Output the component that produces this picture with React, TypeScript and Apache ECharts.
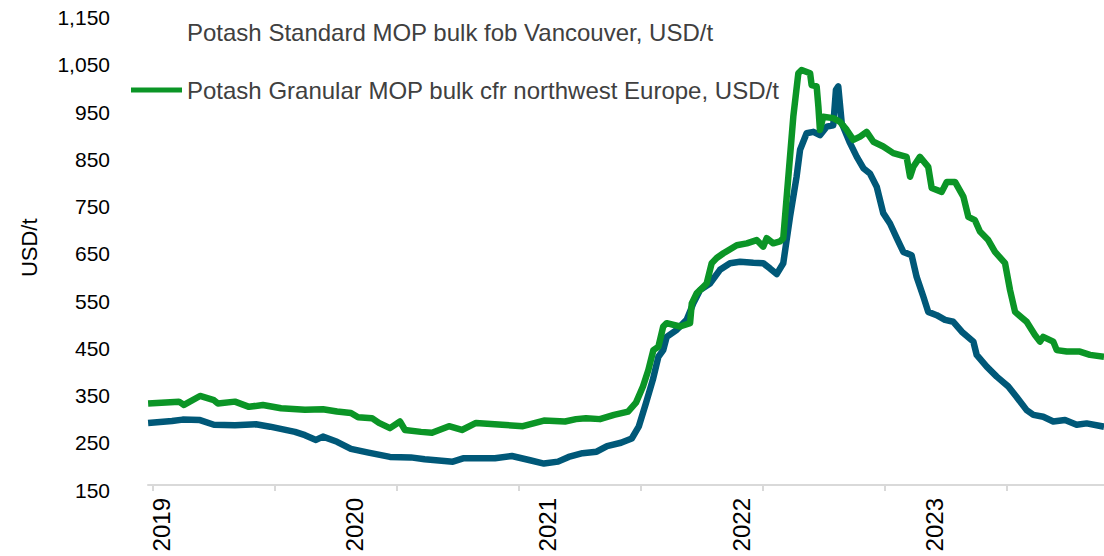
import React, { useEffect, useRef } from "react";
import * as echarts from "echarts";

// Series names
const seriesNames = [
  "Potash Standard MOP bulk fob Vancouver, USD/t",
  "Potash Granular MOP bulk cfr northwest Europe, USD/t",
];

// Vancouver (fractional year, USD/t)
const vancouverDates = [
  2018.928, 2019.052, 2019.107, 2019.197, 2019.269, 2019.378, 2019.487, 2019.56, 2019.689, 2019.741,
  2019.798, 2019.834, 2019.907, 2019.979, 2020.07, 2020.181, 2020.289, 2020.361, 2020.507, 2020.56,
  2020.725, 2020.813, 2020.907, 2020.979, 2021.052, 2021.107, 2021.179, 2021.252, 2021.306, 2021.378,
  2021.434, 2021.47, 2021.507, 2021.543, 2021.572, 2021.597, 2021.615, 2021.667, 2021.718, 2021.753,
  2021.788, 2021.839, 2021.891, 2021.943, 2021.995, 2022.064, 2022.115, 2022.15, 2022.185, 2022.219,
  2022.254, 2022.288, 2022.306, 2022.34, 2022.375, 2022.409, 2022.444, 2022.478, 2022.492, 2022.504,
  2022.522, 2022.565, 2022.6, 2022.634, 2022.668, 2022.703, 2022.737, 2022.772, 2022.807, 2022.841,
  2022.884, 2022.91, 2022.945, 2022.97, 2023.014, 2023.057, 2023.1, 2023.144, 2023.204, 2023.221,
  2023.273, 2023.325, 2023.385, 2023.428, 2023.48, 2023.515, 2023.566, 2023.618, 2023.679, 2023.739,
  2023.791, 2023.881,
];
const vancouverPrices = [
  292, 296, 299, 298, 288, 287, 289, 284, 273, 266,
  256, 263, 252, 237, 229, 220, 219, 215, 210, 217,
  217, 222, 213, 206, 210, 220, 228, 231, 243, 250,
  259, 284, 333, 383, 432, 446, 474, 489, 510, 545,
  573, 587, 616, 630, 633, 631, 630, 619, 607, 630,
  728, 813, 870, 905, 908, 901, 919, 922, 997, 1004,
  926, 884, 855, 831, 820, 792, 736, 714, 683, 654,
  647, 601, 559, 527, 520, 510, 506, 485, 464, 436,
  411, 390, 369, 347, 319, 309, 305, 295, 298, 288,
  291, 284,
];

// Northwest Europe (fractional year, USD/t)
const europeDates = [
  2018.928, 2019.088, 2019.114, 2019.197, 2019.269, 2019.29, 2019.378, 2019.451, 2019.523, 2019.617,
  2019.741, 2019.834, 2019.907, 2019.979, 2020.016, 2020.088, 2020.124, 2020.181, 2020.233, 2020.259,
  2020.342, 2020.399, 2020.487, 2020.554, 2020.627, 2020.762, 2020.87, 2020.979, 2021.088, 2021.145,
  2021.197, 2021.269, 2021.342, 2021.415, 2021.456, 2021.492, 2021.52, 2021.546, 2021.572, 2021.597,
  2021.615, 2021.684, 2021.736, 2021.745, 2021.77, 2021.805, 2021.822, 2021.848, 2021.874, 2021.909,
  2021.978, 2022.03, 2022.081, 2022.115, 2022.133, 2022.167, 2022.202, 2022.219, 2022.271, 2022.297,
  2022.314, 2022.358, 2022.366, 2022.392, 2022.401, 2022.409, 2022.426, 2022.478, 2022.513, 2022.548,
  2022.582, 2022.617, 2022.651, 2022.686, 2022.737, 2022.789, 2022.858, 2022.876, 2022.893, 2022.927,
  2022.97, 2022.988, 2023.04, 2023.066, 2023.109, 2023.152, 2023.178, 2023.212, 2023.238, 2023.281,
  2023.316, 2023.368, 2023.394, 2023.42, 2023.48, 2023.523, 2023.549, 2023.566, 2023.618, 2023.636,
  2023.688, 2023.756, 2023.808, 2023.881,
];
const europePrices = [
  333, 337, 330, 349, 340, 333, 337, 326, 330, 323,
  320, 321, 316, 313, 304, 302, 292, 281, 295, 277,
  273, 271, 285, 277, 292, 288, 285, 297, 295, 300,
  302, 300, 309, 316, 335, 369, 404, 446, 453, 496,
  503, 496, 503, 545, 566, 580, 587, 630, 641, 651,
  668, 672, 679, 665, 683, 672, 676, 683, 940, 1032,
  1039, 1032, 1007, 1004, 961, 912, 940, 937, 929, 912,
  891, 898, 908, 887, 877, 863, 855, 813, 834, 855,
  834, 789, 781, 802, 802, 771, 728, 721, 697, 679,
  654, 630, 573, 527, 506, 478, 464, 474, 464, 446,
  443, 443, 436, 432,
];

// Axis values
const yLabelValues = [150, 250, 350, 450, 550, 650, 750, 850, 950, 1050, 1150];
const yearLabels = [2019, 2020, 2021, 2022, 2023];
const xTickPositions = [2018.952, 2019.584, 2020.216, 2020.848, 2021.48, 2022.112, 2022.744, 2023.376];

const FONT = "'Liberation Sans', Arial, sans-serif";

export default function App() {
  const ref = useRef<HTMLDivElement>(null);

  useEffect(() => {
    if (!ref.current) return;
    const chart = echarts.init(ref.current, undefined, { renderer: "svg" });
    const zip = (xs: number[], ys: number[]) => xs.map((x, i) => [x, ys[i]]);

    chart.setOption({
      animation: false,
      backgroundColor: "#ffffff",
      textStyle: { fontFamily: FONT },
      grid: { left: 148, right: 0, top: 17.5, bottom: 66 },
      legend: {
        orient: "vertical",
        left: 131,
        top: 20,
        padding: 0,
        itemGap: 34,
        itemWidth: 51,
        itemHeight: 5,
        icon: "rect",
        selectedMode: false,
        textStyle: { fontSize: 24, color: "#404040", fontFamily: FONT },
        data: [
          { name: seriesNames[0], itemStyle: { opacity: 0 } },
          { name: seriesNames[1] },
        ],
      },
      xAxis: {
        type: "value",
        min: 2018.9275,
        max: 2023.8808,
        offset: -5,
        splitLine: { show: false },
        axisLine: { show: true, lineStyle: { color: "#d9d9d9", width: 2 } },
        axisTick: {
          show: true,
          customValues: xTickPositions,
          length: 6,
          lineStyle: { color: "#d9d9d9", width: 2 },
        },
        axisLabel: {
          customValues: yearLabels,
          rotate: 90,
          margin: 13,
          fontSize: 24,
          color: "#000000",
          fontFamily: FONT,
          formatter: (v: number) => String(Math.round(v)),
        },
      },
      yAxis: {
        type: "value",
        min: 150,
        max: 1150,
        name: "USD/t",
        nameLocation: "middle",
        nameRotate: 90,
        nameGap: 108,
        nameTextStyle: { fontSize: 22, color: "#000000", fontFamily: FONT, padding: [0, 0, 0, 12] },
        splitLine: { show: false },
        axisLine: { show: false },
        axisTick: { show: false },
        axisLabel: {
          customValues: yLabelValues,
          margin: 38,
          fontSize: 21,
          color: "#000000",
          fontFamily: FONT,
          formatter: (v: number) => v.toLocaleString("en-US"),
        },
      },
      series: [
        {
          name: seriesNames[0],
          type: "line",
          data: zip(vancouverDates, vancouverPrices),
          showSymbol: false,
          color: "#005878",
          lineStyle: { width: 6.5, color: "#005878", join: "round" },
        },
        {
          name: seriesNames[1],
          type: "line",
          data: zip(europeDates, europePrices),
          showSymbol: false,
          color: "#0B9526",
          lineStyle: { width: 6.5, color: "#0B9526", join: "round" },
        },
      ],
    });

    return () => chart.dispose();
  }, []);

  return (
    <div
      ref={ref}
      style={{ position: "fixed", left: 0, top: 0, width: 1104, height: 556 }}
    />
  );
}
